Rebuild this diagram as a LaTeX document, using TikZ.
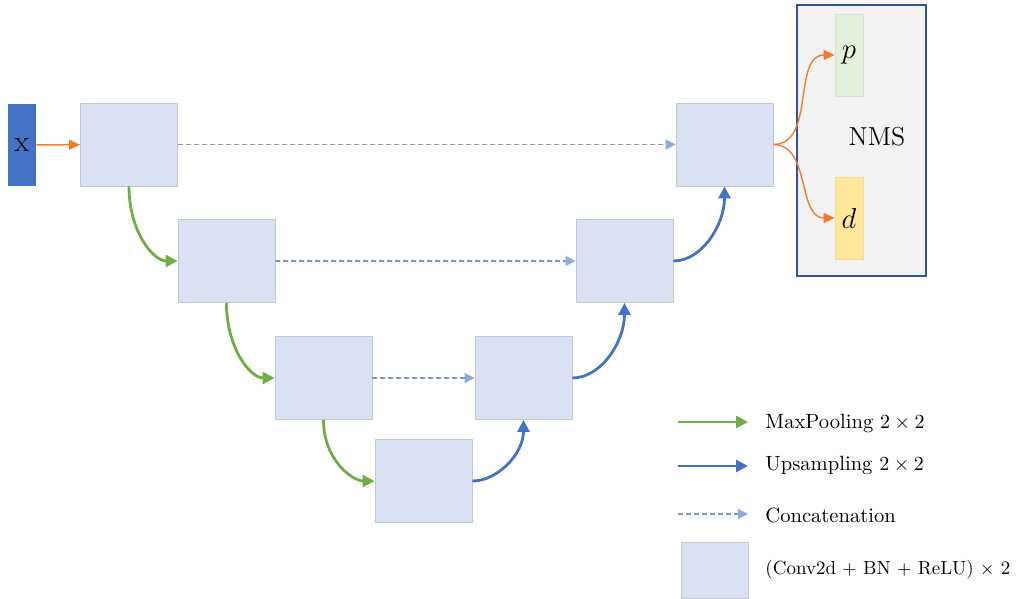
\documentclass[tikz,border=0pt]{standalone}
\usetikzlibrary{arrows.meta}
\definecolor{blockfill}{HTML}{DAE1F2}
\definecolor{blockline}{HTML}{C4C8D0}
\definecolor{inblue}{HTML}{4472C4}
\definecolor{poolgreen}{HTML}{70AD47}
\definecolor{upblue}{HTML}{4472C4}
\definecolor{outorange}{HTML}{ED7D31}
\definecolor{catline}{HTML}{8097B8}
\definecolor{cattip}{HTML}{8FAADC}
\definecolor{nmsfill}{HTML}{F2F2F2}
\definecolor{nmsline}{HTML}{2F5597}
\definecolor{pfill}{HTML}{E2EFDA}
\definecolor{pline}{HTML}{D6E2CE}
\definecolor{dfill}{HTML}{FFE699}
\definecolor{dline}{HTML}{F2DB92}
\tikzset{
  block/.style={draw=blockline, line width=0.4pt, fill=blockfill, minimum width=48.5pt, minimum height=41.5pt, inner sep=0pt},
  poolarrow/.style={poolgreen, line width=1.4pt, -{Triangle[length=6pt, width=6pt]}},
  uparrow/.style={upblue, line width=1.4pt, -{Triangle[length=6pt, width=6pt]}},
  catarrow/.style={catline, line width=0.6pt, dash pattern=on 2.5pt off 1.5pt, -{Triangle[length=5pt, width=5pt, color=cattip]}},
  headarrow/.style={outorange, line width=0.7pt, -{Triangle[length=5.5pt, width=5pt]}},
  keytext/.style={anchor=west, font=\fontsize{10.3}{12}\selectfont, inner sep=0pt}
}
\begin{document}
\begin{tikzpicture}[x=0.5pt, y=-0.5pt]
  \useasboundingbox (0,0) rectangle (1018,599);

  % input
  \node [ fill=inblue, minimum width=14pt, minimum height=41pt, inner sep=0pt ] (x) at (22,145) { \fontsize{15}{16}\selectfont x };

  % encoder / decoder blocks
  \node [ block ] (b1) at (129,144.5) {};
  \node [ block ] (b2) at (226.5,261) {};
  \node [ block ] (b3) at (323.5,378) {};
  \node [ block ] (b4) at (423.5,481) {};
  \node [ block ] (b5) at (523.5,378) {};
  \node [ block ] (b6) at (624.5,261) {};
  \node [ block ] (b7) at (724.5,144.5) {};

  % NMS head
  \node [ draw=nmsline, line width=0.9pt, fill=nmsfill, minimum width=64.5pt, minimum height=135.5pt, inner sep=0pt ] (nms) at (861.5,140.5) {};
  \node [ fill=pfill, draw=pline, line width=0.4pt, minimum width=14pt, minimum height=41pt, inner sep=0pt ] (p) at (849,55) { \fontsize{14}{15}\selectfont $p$ };
  \node [ fill=dfill, draw=dline, line width=0.4pt, minimum width=14pt, minimum height=41pt, inner sep=0pt ] (d) at (849,218) { \fontsize{14}{15}\selectfont $d$ };
  \node [ font=\fontsize{13}{14}\selectfont ] (nmstext) at (877,137) { NMS };

  \draw [ headarrow ] (x) -- (b1);
  \draw [ headarrow ] (b7.east) to [ out=0, in=180 ] (p.west);
  \draw [ headarrow ] (b7.east) to [ out=0, in=180 ] (d.west);

  % skip connections
  \draw [ catarrow ] (b1) -- (b7);
  \draw [ catarrow ] (b2) -- (b6);
  \draw [ catarrow ] (b3) -- (b5);

  % down path
  \draw [ poolarrow ] (b1.south) to [ out=-90, in=180, out looseness=1.3, in looseness=0.7 ] (b2.west);
  \draw [ poolarrow ] (b2.south) to [ out=-90, in=180, out looseness=1.3, in looseness=0.7 ] (b3.west);
  \draw [ poolarrow ] (b3.south) to [ out=-90, in=180, out looseness=1.3, in looseness=0.7 ] (b4.west);

  % up path
  \draw [ uparrow ] (b4.east) to [ out=0, in=-90, out looseness=0.8, in looseness=1.1 ] (b5.south);
  \draw [ uparrow ] (b5.east) to [ out=0, in=-90, out looseness=0.8, in looseness=1.1 ] (b6.south);
  \draw [ uparrow ] (b6.east) to [ out=0, in=-90, out looseness=0.8, in looseness=1.1 ] (b7.south);

  % legend
  \coordinate (poolA) at (678,422);
  \coordinate (poolB) at (748,422);
  \coordinate (upA) at (678,466);
  \coordinate (upB) at (748,466);
  \coordinate (catA) at (678,514);
  \coordinate (catB) at (748,514);
  \draw [ poolarrow ] (poolA) -- (poolB);
  \draw [ uparrow ] (upA) -- (upB);
  \draw [ catarrow ] (catA) -- (catB);
  \node [ block, minimum width=33.5pt, minimum height=28pt ] (keyblock) at (714.5,570) {};
  \node [ keytext ] (poolkey) at (765,423) { MaxPooling $2\times2$ };
  \node [ keytext ] (upkey) at (765,465) { Upsampling $2\times2$ };
  \node [ keytext ] (catkey) at (765,515) { Concatenation };
  \node [ keytext, font=\fontsize{9.5}{11}\selectfont ] (blockkey) at (765,570) { (Conv2d $+$ BN $+$ ReLU) $\times$ 2 };
\end{tikzpicture}
\end{document}
